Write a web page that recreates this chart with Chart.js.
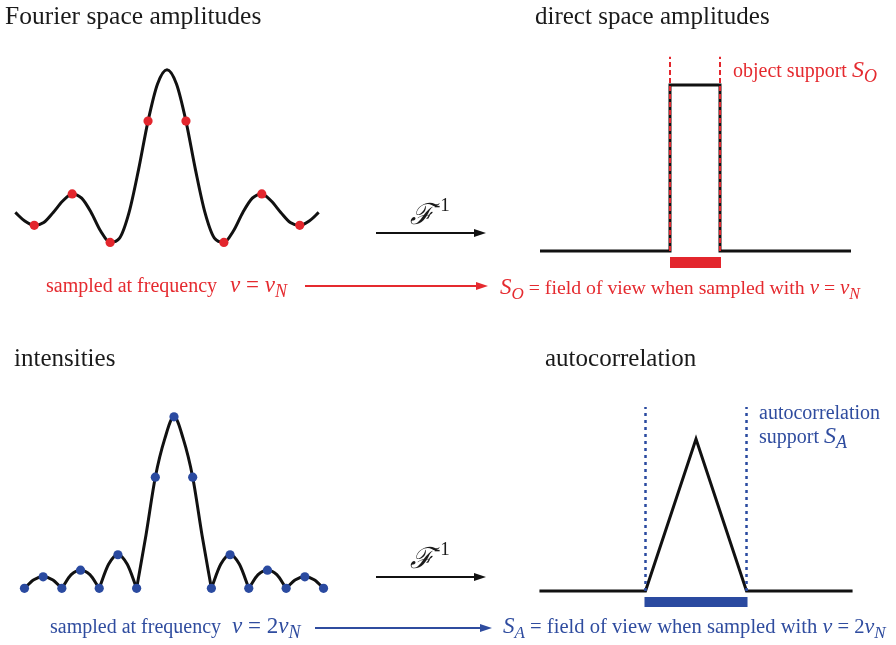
<!DOCTYPE html>
<html>
<head>
<meta charset="utf-8">
<script src="https://cdn.jsdelivr.net/npm/chart.js@4.4.1/dist/chart.umd.min.js"></script>
<style>
  body { margin: 0; background: #fff; }
  #page { position: relative; width: 896px; height: 645px; overflow: hidden; background: #fff; }
  canvas { position: absolute; }
  svg { position: absolute; left: 0; top: 0; pointer-events: none; }
  svg text { font-family: "Liberation Serif", "Times New Roman", serif; }
  .math { font-style: italic; }
</style>
</head>
<body>
<div id="page">
  <canvas id="fourier" width="334" height="220" style="left:0px;top:45px"></canvas>
  <canvas id="direct" width="376" height="230" style="left:520px;top:45px"></canvas>
  <canvas id="intens" width="348" height="220" style="left:0px;top:395px"></canvas>
  <canvas id="autocorr" width="376" height="230" style="left:520px;top:395px"></canvas>

  <svg width="896" height="645" viewBox="0 0 896 645">
    <!-- titles -->
    <text x="5" y="24" font-size="25.5" fill="#1a1a1a">Fourier space amplitudes</text>
    <text x="535" y="24" font-size="25" fill="#1a1a1a">direct space amplitudes</text>
    <text x="14" y="366" font-size="25" fill="#1a1a1a">intensities</text>
    <text x="545" y="366" font-size="25" fill="#1a1a1a">autocorrelation</text>

    <!-- inverse transform arrows -->
    <text x="410" y="224" font-size="29" fill="#1a1a1a" font-family="DejaVu Serif" font-style="italic">ℱ</text>
    <text x="434" y="211" font-size="19" fill="#1a1a1a">-1</text>
    <line x1="376" y1="233" x2="476" y2="233" stroke="#111" stroke-width="2.2"/>
    <polygon points="474,229 486,233 474,237" fill="#111"/>

    <text x="410" y="568" font-size="29" fill="#1a1a1a" font-family="DejaVu Serif" font-style="italic">ℱ</text>
    <text x="434" y="555" font-size="19" fill="#1a1a1a">-1</text>
    <line x1="376" y1="577" x2="476" y2="577" stroke="#111" stroke-width="2.2"/>
    <polygon points="474,573 486,577 474,581" fill="#111"/>

    <!-- red row -->
    <g fill="#e52a2f">
      <text x="46" y="292" font-size="20">sampled at frequency</text>
      <text x="230" y="292" font-size="23"><tspan class="math">ν</tspan> = <tspan class="math">ν</tspan><tspan class="math" font-size="18" dy="5">N</tspan></text>
      <text x="500" y="294" font-size="19.8"><tspan class="math" font-size="23">S</tspan><tspan class="math" font-size="17" dy="5">O</tspan><tspan dy="-5"> = field of view when sampled with </tspan><tspan class="math" font-size="21">ν</tspan> = <tspan class="math" font-size="21">ν</tspan><tspan class="math" font-size="16" dy="5">N</tspan></text>
      <text x="733" y="77" font-size="20">object support <tspan class="math" font-size="24">S</tspan><tspan class="math" font-size="18" dy="5">O</tspan></text>
    </g>
    <line x1="305" y1="286" x2="478" y2="286" stroke="#e52a2f" stroke-width="2"/>
    <polygon points="476,282 488,286 476,290" fill="#e52a2f"/>

    <!-- blue row -->
    <g fill="#2f4c9f">
      <text x="50" y="633" font-size="20">sampled at frequency</text>
      <text x="232" y="633" font-size="23"><tspan class="math">ν</tspan> = 2<tspan class="math">ν</tspan><tspan class="math" font-size="18" dy="5">N</tspan></text>
      <text x="503" y="633" font-size="20.6"><tspan class="math" font-size="23">S</tspan><tspan class="math" font-size="17" dy="5">A</tspan><tspan dy="-5"> = field of view when sampled with </tspan><tspan class="math" font-size="22">ν</tspan> = 2<tspan class="math" font-size="22">ν</tspan><tspan class="math" font-size="17" dy="5">N</tspan></text>
      <text x="759" y="419" font-size="20">autocorrelation</text>
      <text x="759" y="443" font-size="20">support <tspan class="math" font-size="24">S</tspan><tspan class="math" font-size="18" dy="5">A</tspan></text>
    </g>
    <line x1="315" y1="628" x2="482" y2="628" stroke="#2f4c9f" stroke-width="2"/>
    <polygon points="480,624 492,628 480,632" fill="#2f4c9f"/>
  </svg>
</div>

<script>
const RED = "#e3262d";
const BLUE = "#2a4aa0";
const INK = "#111111";

// Fourier space amplitudes (sample spacing = 1)
const fourierX = [-4, -3.75, -3.5, -3.25, -3, -2.75, -2.5, -2.25, -2, -1.75, -1.5, -1.25, -1, -0.75, -0.5, -0.25,
                  0, 0.25, 0.5, 0.75, 1, 1.25, 1.5, 1.75, 2, 2.25, 2.5, 2.75, 3, 3.25, 3.5, 3.75, 4];
const fourierY = [0, -0.06, -0.09, -0.07, 0, 0.08, 0.13, 0.10, 0, -0.13, -0.21, -0.18, 0, 0.30, 0.64, 0.90,
                  1.00, 0.90, 0.64, 0.30, 0, -0.18, -0.21, -0.13, 0, 0.10, 0.13, 0.08, 0, -0.07, -0.09, -0.06, 0];
const fourierSampleX = [-3.5, -2.5, -1.5, -0.5, 0.5, 1.5, 2.5, 3.5];
const fourierSampleY = [-0.09, 0.13, -0.21, 0.64, 0.64, -0.21, 0.13, -0.09];

// intensities (sampled twice as fine)
const intensX = [-8, -7.5, -7, -6.5, -6, -5.5, -5, -4.5, -4, -3.5, -3, -2.5, -2, -1.5, -1, -0.5,
                 0, 0.5, 1, 1.5, 2, 2.5, 3, 3.5, 4, 4.5, 5, 5.5, 6, 6.5, 7, 7.5, 8];
const intensY = [0, 0.05, 0.067, 0.05, 0, 0.08, 0.106, 0.08, 0, 0.14, 0.196, 0.14, 0, 0.31, 0.648, 0.87,
                 1.00, 0.87, 0.648, 0.31, 0, 0.14, 0.196, 0.14, 0, 0.08, 0.106, 0.08, 0, 0.05, 0.067, 0.05, 0];
const intensSampleX = [-8, -7, -6, -5, -4, -3, -2, -1, 0, 1, 2, 3, 4, 5, 6, 7, 8];
const intensSampleY = [0, 0.067, 0, 0.106, 0, 0.196, 0, 0.648, 1.00, 0.648, 0, 0.196, 0, 0.106, 0, 0.067, 0];

// direct space object (box) and its support
const directX = [-6.2, -1, -1, 1, 1, 6.24];
const directY = [0, 0, 1, 1, 0, 0];
const objectSupport = [-1, 1];
const objectSupportTop = 1.17;
const objectBarY = -0.069;

// autocorrelation (triangle) and its support
const autoX = [-6.2, -2, 0, 2, 6.2];
const autoY = [0, 0, 1, 0, 0];
const autoSupport = [-2, 2];
const autoSupportTop = 1.21;
const autoBarY = -0.072;

const pts = (xs, ys) => xs.map((x, i) => ({ x, y: ys[i] }));

function lineSet(data, color, width, extra) {
  return Object.assign({
    data, showLine: true, borderColor: color, borderWidth: width,
    pointRadius: 0, tension: 0, clip: false,
    borderJoinStyle: "miter", borderCapStyle: "butt"
  }, extra || {});
}

function dotSet(data, color) {
  return {
    data, showLine: false, pointRadius: 4.6, pointBackgroundColor: color,
    pointBorderWidth: 0, clip: false
  };
}

function makeChart(id, xRange, yRange, datasets) {
  return new Chart(document.getElementById(id), {
    type: "scatter",
    data: { datasets },
    options: {
      responsive: false,
      animation: false,
      events: [],
      layout: { padding: 0 },
      plugins: { legend: { display: false }, tooltip: { enabled: false } },
      scales: {
        x: { type: "linear", display: false, min: xRange[0], max: xRange[1] },
        y: { type: "linear", display: false, min: yRange[0], max: yRange[1] }
      }
    }
  });
}

// split intensity curve into lobes so the zeros stay sharp
const lobes = [];
let cur = [];
intensX.forEach((x, i) => {
  cur.push({ x, y: intensY[i] });
  if (intensY[i] === 0 && cur.length > 1) {
    lobes.push(cur);
    cur = [{ x, y: 0 }];
  }
});

makeChart("fourier", [-4.282, 4.282], [-0.336, 1.141], [
  dotSet(pts(fourierSampleX, fourierSampleY), RED),
  lineSet(pts(fourierX, fourierY), INK, 3, { cubicInterpolationMode: "monotone" })
]);

makeChart("intens", [-9.0625, 9.0625], [-0.1285, 1.1006], [
  dotSet(pts(intensSampleX, intensSampleY), BLUE),
  ...lobes.map(l => lineSet(l, INK, 3, { cubicInterpolationMode: "monotone" }))
]);

makeChart("direct", [-7, 8.04], [-0.1446, 1.241], [
  ...objectSupport.map(x => lineSet([{ x, y: 0 }, { x, y: objectSupportTop }], RED, 2, { borderDash: [5, 3] })),
  lineSet(pts(directX, directY), INK, 3),
  lineSet([{ x: objectSupport[0], y: objectBarY }, { x: objectSupport[1] + 0.04, y: objectBarY }], RED, 11)
]);

makeChart("autocorr", [-6.97, 7.92], [-0.2237, 1.289], [
  ...autoSupport.map(x => lineSet([{ x, y: 0 }, { x, y: autoSupportTop }], BLUE, 2.5, { borderDash: [3, 4] })),
  lineSet(pts(autoX, autoY), INK, 3),
  lineSet([{ x: autoSupport[0] - 0.04, y: autoBarY }, { x: autoSupport[1] + 0.04, y: autoBarY }], BLUE, 10)
]);
</script>
</body>
</html>
